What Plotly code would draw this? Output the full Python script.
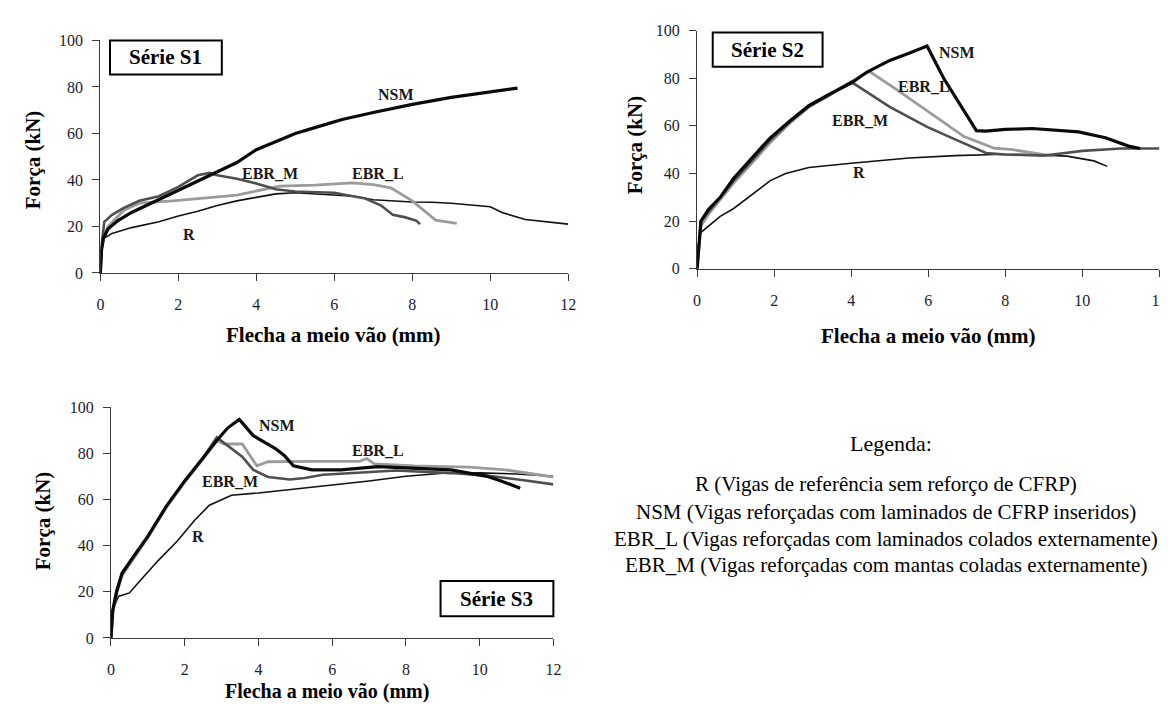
import plotly.graph_objects as go

W, H = 1168, 705

# ---------------- Data ----------------
# Série S1
s1_R_x = [0, 0.03, 0.1, 0.3, 0.8, 1.5, 2.0, 2.5, 3.0, 3.5, 4.0, 4.5, 5.0, 5.5, 6.0, 6.5, 7.0, 7.5, 8.0, 8.5, 9.0, 10.0, 10.3, 10.9, 11.5, 12.0]
s1_R_y = [0, 10, 15, 17, 19.5, 22, 24.5, 26.5, 29, 31, 32.5, 34, 34.5, 34, 33.5, 33, 31.5, 31, 30.5, 30.4, 30, 28.5, 26, 23, 22, 21]
s1_NSM_x = [0, 0.03, 0.08, 0.2, 0.45, 0.8, 1.3, 2.0, 2.8, 3.5, 4.0, 4.5, 5.0, 5.5, 6.2, 7.0, 8.0, 9.0, 10.0, 10.7]
s1_NSM_y = [0, 10, 15, 19, 22.5, 26, 30, 35.5, 42, 47.5, 53, 56.5, 60, 62.5, 66, 69, 72.5, 75.5, 78, 79.5]
s1_EBRL_x = [0, 0.03, 0.1, 0.2, 0.6, 1.0, 1.86, 2.5, 3.5, 4.6, 5.5, 6.46, 7.0, 7.45, 8.0, 8.6, 9.14]
s1_EBRL_y = [0, 10, 17, 20, 27, 30, 31, 32, 33.5, 37.3, 37.8, 38.7, 38, 36.6, 31, 22.7, 21.3]
s1_EBRM_x = [0, 0.03, 0.1, 0.3, 0.6, 1.0, 1.5, 2.0, 2.5, 2.8, 3.0, 3.5, 4.0, 4.5, 5.0, 6.0, 6.3, 6.8, 7.2, 7.5, 7.8, 8.1, 8.2]
s1_EBRM_y = [0, 12, 22, 25, 28, 31, 33, 37, 42, 43, 42, 40.5, 38.5, 36, 35, 34.5, 33.5, 32, 29, 25, 24, 22.5, 21]

# Série S2
s2_R_x = [0, 0.03, 0.08, 0.27, 0.6, 0.95, 1.4, 1.9, 2.3, 2.9, 4.0, 5.5, 6.7, 7.7, 8.7, 9.6, 10.3, 10.65]
s2_R_y = [0, 10, 15, 17.5, 22, 25.3, 31, 37, 40, 42.5, 44.3, 46.5, 47.5, 48, 48, 47.3, 45.3, 43]
s2_NSM_x = [0, 0.05, 0.1, 0.3, 0.6, 0.95, 1.4, 1.9, 2.4, 2.9, 3.4, 4.0, 4.4, 5.0, 5.5, 5.97, 6.4, 6.9, 7.25, 7.5, 8.0, 8.7, 9.9, 10.6, 11.2, 11.5]
s2_NSM_y = [0, 12, 20, 25, 30, 38, 46, 55, 62, 68.5, 73, 78, 82.5, 87.5, 90.5, 93.5, 80, 67, 58, 57.8, 58.5, 58.9, 57.5, 55, 51.5, 50.5]
s2_EBRL_x = [0, 0.05, 0.1, 0.3, 0.6, 0.95, 1.4, 1.9, 2.4, 2.9, 3.4, 4.0, 4.47, 5.2, 5.97, 6.93, 7.7, 8.19, 9.25]
s2_EBRL_y = [0, 10, 18, 23, 29, 36, 44, 53, 61, 68, 73, 78.5, 82.9, 75, 66.4, 55.5, 50.7, 50, 47.3]
s2_EBRM_x = [0, 0.05, 0.1, 0.3, 0.6, 0.95, 1.4, 1.9, 2.4, 2.9, 3.4, 4.0, 5.0, 5.97, 6.74, 7.5, 8.0, 9.0, 9.5, 10.0, 11.0, 12.0]
s2_EBRM_y = [0, 11, 20, 24, 30, 37, 45, 54, 61.5, 68, 72.5, 78.5, 68, 59.6, 54, 48.6, 48, 47.5, 48.5, 49.5, 50.5, 50.5]

# Série S3
s3_R_x = [0, 0.05, 0.2, 0.5, 0.8, 1.28, 1.8, 2.27, 2.67, 3.0, 3.27, 4.0, 5.0, 6.0, 7.0, 8.0, 9.0, 10.0, 11.0, 12.0]
s3_R_y = [0, 12, 18, 19.5, 25, 33.5, 42, 51, 57.5, 60, 61.8, 62.8, 64.5, 66, 68, 70, 71.3, 71.5, 71, 70]
s3_NSM_x = [0, 0.05, 0.15, 0.3, 0.6, 1.0, 1.5, 2.0, 2.5, 2.87, 3.17, 3.48, 3.86, 4.46, 4.7, 4.95, 5.45, 6.24, 7.24, 8.23, 9.22, 10.2, 10.6, 11.1]
s3_NSM_y = [0, 12, 20, 28, 35, 44, 57, 68, 78, 85.5, 91, 94.6, 87.6, 82, 79, 74.5, 72.8, 72.8, 74.2, 73.5, 72.8, 70, 67.9, 64.8]
s3_EBRL_x = [0, 0.05, 0.15, 0.3, 0.6, 1.0, 1.5, 2.0, 2.5, 2.87, 3.07, 3.56, 3.96, 4.26, 5.5, 6.74, 6.94, 7.14, 8.23, 9.72, 10.7, 12.0]
s3_EBRL_y = [0, 11, 19, 27, 34, 43.5, 56.5, 67.5, 77.5, 85.5, 84, 84, 74.5, 76.3, 76.5, 76.5, 77.7, 75.4, 74.5, 74, 72.8, 69.7]
s3_EBRM_x = [0, 0.05, 0.15, 0.3, 0.6, 1.0, 1.5, 2.0, 2.5, 2.87, 3.27, 3.56, 3.86, 4.26, 4.85, 5.25, 5.75, 6.74, 7.73, 9.22, 10.2, 11.2, 12.0]
s3_EBRM_y = [0, 12, 20, 28, 35, 44, 57, 68, 78, 86.9, 82, 78.5, 72.8, 69.7, 68.6, 69.3, 70.7, 71.7, 72.5, 71.4, 70.3, 68.3, 66.5]

x_ticks = [0, 2, 4, 6, 8, 10, 12]
y_ticks = [0, 20, 40, 60, 80, 100]

series_names = ["R", "NSM", "EBR_L", "EBR_M"]
legend_title = "Legenda:"
legend_lines = [
    "R (Vigas de referência sem reforço de CFRP)",
    "NSM (Vigas reforçadas com laminados de CFRP inseridos)",
    "EBR_L (Vigas reforçadas com laminados colados externamente)",
    "EBR_M (Vigas reforçadas com mantas coladas externamente)",
]
x_title = "Flecha a meio vão (mm)"
y_title = "Força (kN)"

# ---------------- Layout helpers ----------------
SERIF = "Times New Roman, Liberation Serif, DejaVu Serif, serif"
styles = {
    "R": dict(color="#111111", width=1.6),
    "NSM": dict(color="#0a0a0a", width=3.2),
    "EBR_L": dict(color="#9b9b9b", width=2.8),
    "EBR_M": dict(color="#4f4f4f", width=2.6),
}

# pixel boxes of plot areas: (left, right), (top, bottom)
panels = [
    dict(name="S1", xp=(89.3, 562.0), yp=(25.0, 263.3),
         box=(99, 212, 25, 60),
         data={"R": (s1_R_x, s1_R_y), "EBR_L": (s1_EBRL_x, s1_EBRL_y),
               "EBR_M": (s1_EBRM_x, s1_EBRM_y), "NSM": (s1_NSM_x, s1_NSM_y)},
         labels={"NSM": (7.58, 76.9), "EBR_M": (4.36, 42.9), "EBR_L": (7.12, 42.9), "R": (2.28, 16.5)},
         xtitle=(325, 327), ytitle=(22, 147)),
    dict(name="S2", xp=(692.2, 1159.3), yp=(15.0, 259.0),
         box=(708, 819, 17, 52),
         data={"R": (s2_R_x, s2_R_y), "EBR_M": (s2_EBRM_x, s2_EBRM_y),
               "EBR_L": (s2_EBRL_x, s2_EBRL_y), "NSM": (s2_NSM_x, s2_NSM_y)},
         labels={"NSM": (6.75, 91.0), "EBR_L": (5.88, 76.6), "EBR_M": (4.23, 62.3), "R": (4.2, 40.6)},
         xtitle=(926, 328), ytitle=(629, 132)),
    dict(name="S3", xp=(100.0, 547.0), yp=(400.7, 637.3),
         box=(433, 547, 579, 615),
         data={"R": (s3_R_x, s3_R_y), "EBR_M": (s3_EBRM_x, s3_EBRM_y),
               "EBR_L": (s3_EBRL_x, s3_EBRL_y), "NSM": (s3_NSM_x, s3_NSM_y)},
         labels={"NSM": (4.51, 91.8), "EBR_L": (7.25, 81.3), "EBR_M": (3.22, 67.8), "R": (2.36, 44.0)},
         xtitle=(318, 692), ytitle=(31, 517)),
]

def px2paper_x(px):
    return px / W

def px2paper_y(py):
    return 1 - py / H

fig = go.Figure()
annotations = []
shapes = []

for i, p in enumerate(panels, start=1):
    xa = "x" if i == 1 else f"x{i}"
    ya = "y" if i == 1 else f"y{i}"
    for name in ["R", "EBR_L", "EBR_M", "NSM"]:
        xs, ys = p["data"][name]
        fig.add_trace(go.Scatter(x=xs, y=ys, mode="lines", name=name,
                                 line=dict(color=styles[name]["color"], width=styles[name]["width"]),
                                 xaxis=xa, yaxis=ya, showlegend=False))
    ax_common = dict(showgrid=False, zeroline=False, showline=True, linecolor="#3a3a3a", linewidth=1.2,
                     ticks="outside", ticklen=7, tickwidth=1.2, tickcolor="#3a3a3a",
                     tickfont=dict(family=SERIF, size=16, color="#1c1c2a"))
    fig.layout[f"xaxis{'' if i == 1 else i}"] = dict(
        ax_common, domain=[px2paper_x(p["xp"][0]), px2paper_x(p["xp"][1])],
        range=[0, 12], tickvals=x_ticks, anchor=ya, ticklabelstandoff=10)
    fig.layout[f"yaxis{'' if i == 1 else i}"] = dict(
        ax_common, domain=[px2paper_y(p["yp"][1]), px2paper_y(p["yp"][0])],
        range=[0, 100], tickvals=y_ticks, anchor=xa, ticklabelstandoff=6)
    # curve labels
    for name, (lx, ly) in p["labels"].items():
        annotations.append(dict(x=lx, y=ly, xref=xa, yref=ya, text=f"<b>{name}</b>", showarrow=False,
                                font=dict(family=SERIF, size=16, color="#1a1a1a")))
    # series box
    bx0, bx1, by0, by1 = p["box"]
    shapes.append(dict(type="rect", xref="paper", yref="paper",
                       x0=px2paper_x(bx0), x1=px2paper_x(bx1), y0=px2paper_y(by1), y1=px2paper_y(by0),
                       line=dict(color="black", width=2), fillcolor="white", layer="above"))
    annotations.append(dict(x=px2paper_x((bx0 + bx1) / 2), y=px2paper_y((by0 + by1) / 2), xref="paper", yref="paper",
                            text=f"<b>Série {p['name']}</b>", showarrow=False, xanchor="center", yanchor="middle",
                            font=dict(family=SERIF, size=21, color="black")))
    # axis titles
    tx, ty = p["xtitle"]
    annotations.append(dict(x=px2paper_x(tx), y=px2paper_y(ty), xref="paper", yref="paper",
                            text=f"<b>{x_title}</b>", showarrow=False, xanchor="center", yanchor="middle",
                            font=dict(family=SERIF, size=21 if i < 3 else 20, color="black")))
    tx, ty = p["ytitle"]
    annotations.append(dict(x=px2paper_x(tx), y=px2paper_y(ty), xref="paper", yref="paper",
                            text=f"<b>{y_title}</b>", showarrow=False, xanchor="center", yanchor="middle",
                            textangle=-90, font=dict(family=SERIF, size=21, color="black")))

# legend text block
legend_cx = 883
annotations.append(dict(x=px2paper_x(legend_cx + 5), y=px2paper_y(438), xref="paper", yref="paper",
                        text=legend_title, showarrow=False, xanchor="center", yanchor="middle",
                        font=dict(family=SERIF, size=22, color="black")))
legend_y = [480, 508, 536, 563]
for line, ly in zip(legend_lines, legend_y):
    annotations.append(dict(x=px2paper_x(legend_cx), y=px2paper_y(ly), xref="paper", yref="paper",
                            text=line, showarrow=False, xanchor="center", yanchor="middle",
                            font=dict(family=SERIF, size=21, color="black")))

fig.update_layout(width=W, height=H, margin=dict(l=0, r=0, t=0, b=0),
                  paper_bgcolor="white", plot_bgcolor="white",
                  font=dict(family=SERIF),
                  annotations=annotations, shapes=shapes, showlegend=False)

fig.write_html("out.html")
